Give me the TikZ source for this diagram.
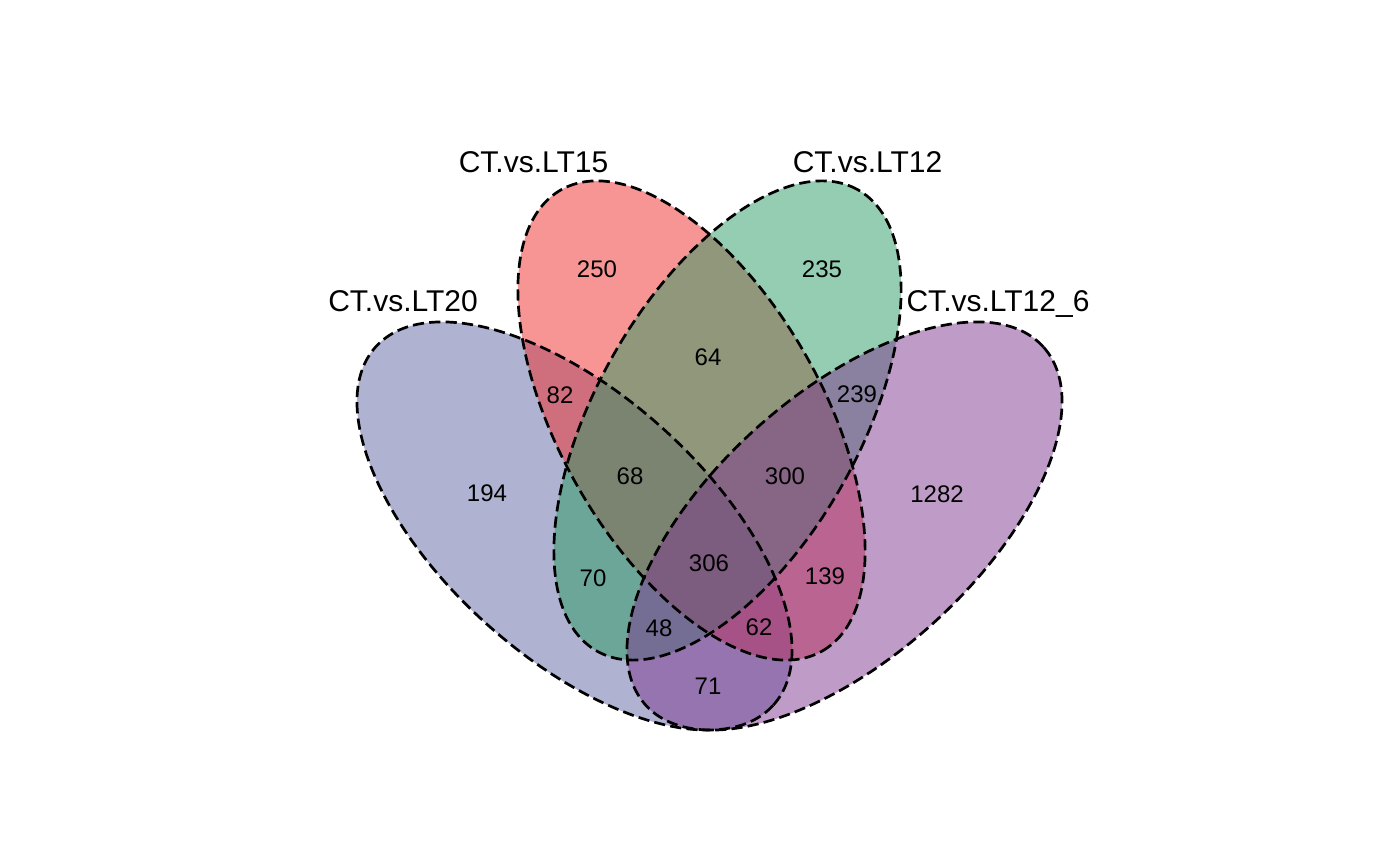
\documentclass[tikz,border=0pt]{standalone}
\usepackage{fontspec}
\setmainfont{Liberation Sans}
\usetikzlibrary{positioning}
\usepackage{xcolor}
\definecolor{cB}{RGB}{95,103,163}
\definecolor{cR}{RGB}{239,43,43}
\definecolor{cG}{RGB}{41,155,99}
\definecolor{cP}{RGB}{127,55,143}

\begin{document}
\begin{tikzpicture}[x=0.5pt,y=0.5pt]
  \useasboundingbox (0,0) rectangle (1400,866);
  \tikzset{
    setfill/.style={fill=#1,fill opacity=0.5},
    setline/.style={draw=black,line width=1.35pt,dash pattern=on 5.6pt off 2.6pt},
    num/.style={font=\fontsize{12}{14}\selectfont,inner sep=0pt},
    setlabel/.style={font=\fontsize{15}{18}\selectfont,anchor=base,inner sep=0pt}
  }
  % fills
  \fill[setfill=cB,rotate around={-42:(574.5,340)}] (574.5,340) ellipse [x radius=267.6,y radius=131.6];
  \fill[setfill=cR,rotate around={-60.5:(691.5,445.5)}] (691.5,445.5) ellipse [x radius=265,y radius=131.6];
  \fill[setfill=cG,rotate around={60.5:(727.5,445.5)}] (727.5,445.5) ellipse [x radius=265,y radius=131.6];
  \fill[setfill=cP,rotate around={42:(844.5,340)}] (844.5,340) ellipse [x radius=267.6,y radius=131.6];
  % outlines
  \draw[setline,rotate around={-42:(574.5,340)}] (574.5,340) ellipse [x radius=267.6,y radius=131.6];
  \draw[setline,rotate around={-60.5:(691.5,445.5)}] (691.5,445.5) ellipse [x radius=265,y radius=131.6];
  \draw[setline,rotate around={60.5:(727.5,445.5)}] (727.5,445.5) ellipse [x radius=265,y radius=131.6];
  \draw[setline,rotate around={42:(844.5,340)}] (844.5,340) ellipse [x radius=267.6,y radius=131.6];
  % set names
  \node[setlabel] (lt20) at (403,554) {CT.vs.LT20};
  \node[setlabel] (lt15) at (533.5,693) {CT.vs.LT15};
  \node[setlabel] (lt12) at (867.5,693) {CT.vs.LT12};
  \node[setlabel] (lt126) at (998,554) {CT.vs.LT12\_6};
  % counts
  \foreach \nm/\px/\py/\val in {a/597/597/250, b/822/597/235, c/708/509/64,
      d/560/471/82, e/857/472/239, f/487/373/194, g/630/390/68, h/785/390/300,
      i/937/372/1282, j/709/303/306, k/593/288/70, l/825/290/139,
      m/659/238/48, n/759/239/62, o/708/180/71} {
    \node[num] (n\nm) at (\px,\py) {\val};
  }
\end{tikzpicture}
\end{document}
